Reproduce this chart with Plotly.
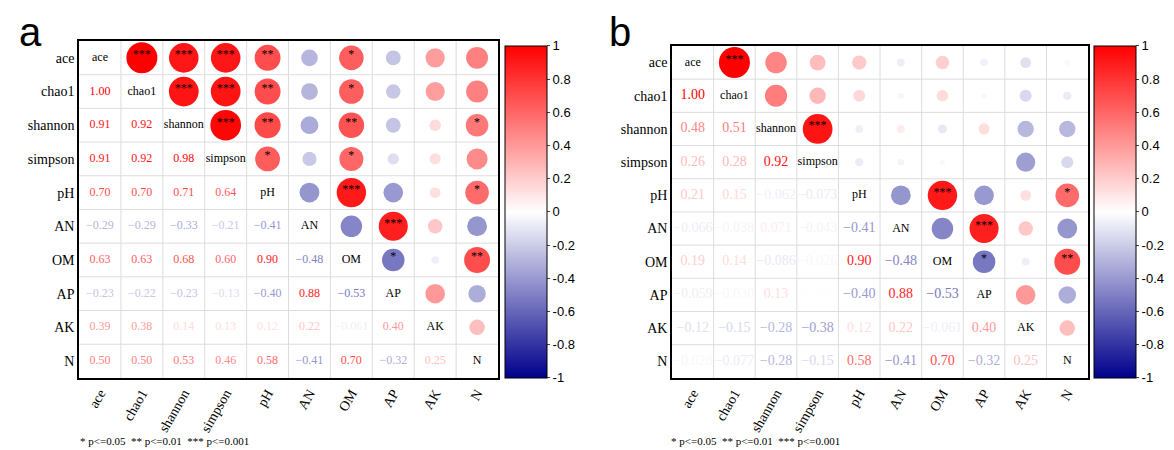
import plotly.graph_objects as go
import numpy as np

labels = ["ace", "chao1", "shannon", "simpson", "pH", "AN", "OM", "AP", "AK", "N"]

# lower-triangle correlation values (row i, col j<i)
corr_a = [
    [],
    [1.00],
    [0.91, 0.92],
    [0.91, 0.92, 0.98],
    [0.70, 0.70, 0.71, 0.64],
    [-0.29, -0.29, -0.33, -0.21, -0.41],
    [0.63, 0.63, 0.68, 0.60, 0.90, -0.48],
    [-0.23, -0.22, -0.23, -0.13, -0.40, 0.88, -0.53],
    [0.39, 0.38, 0.14, 0.13, 0.12, 0.22, -0.061, 0.40],
    [0.50, 0.50, 0.53, 0.46, 0.58, -0.41, 0.70, -0.32, 0.25],
]
corr_b = [
    [],
    [1.00],
    [0.48, 0.51],
    [0.26, 0.28, 0.92],
    [0.21, 0.15, -0.062, -0.073],
    [-0.066, -0.038, 0.071, -0.043, -0.41],
    [0.19, 0.14, -0.086, -0.026, 0.90, -0.48],
    [-0.059, -0.030, 0.13, 0.005, -0.40, 0.88, -0.53],
    [-0.12, -0.15, -0.28, -0.38, 0.12, 0.22, -0.061, 0.40],
    [-0.028, -0.077, -0.28, -0.15, 0.58, -0.41, 0.70, -0.32, 0.25],
]
sig_a = {(0,1):"***",(0,2):"***",(0,3):"***",(0,4):"**",(0,6):"*",
         (1,2):"***",(1,3):"***",(1,4):"**",(1,6):"*",
         (2,3):"***",(2,4):"**",(2,6):"**",(2,9):"*",
         (3,4):"*",(3,6):"*",(4,6):"***",(4,9):"*",(5,7):"***",(6,7):"*",(6,9):"**"}
sig_b = {(0,1):"***",(2,3):"***",(4,6):"***",(4,9):"*",(5,7):"***",(6,7):"*",(6,9):"**"}

footnote = "* p<=0.05  ** p<=0.01  *** p<=0.001"

def col(v):
    if v >= 0:
        t = v
        r, g, b = 255, 255*(1-t), 255*(1-t)
    else:
        t = -v
        r, g, b = 255*(1-t), 255*(1-t), 255 - (255-139)*t
    return f"rgb({int(r)},{int(g)},{int(b)})"

def fmt(v):
    s = ("%.2f" % v) if abs(v) >= 0.1 else ("%.2g" % v)
    if abs(v) < 0.1 and abs(v) >= 0.01 and len(s.replace("-", "")) < 5:
        s = "%.3f" % v
    return s.replace("-", "\u2212")

cs = [[0, "#00008B"], [0.5, "#FFFFFF"], [1, "#FF0000"]]
FONT = "Liberation Serif"
fig = go.Figure()

panels = [
    (corr_a, sig_a, "x", "y", [0.0605, 0.4174], [0.178, 0.9267], 0.4234, 31),
    (corr_b, sig_b, "x2", "y2", [0.5656, 0.92], [0.178, 0.9156], 0.925, 31),
]
layout_axes = {}
for k, (corr, sig, xa, ya, xd, yd, cbx, dmax) in enumerate(panels):
    n = len(labels)
    full = np.eye(n)
    for i in range(n):
        for j, v in enumerate(corr[i]):
            full[i, j] = v
            full[j, i] = v
    ux, uy, uv, us = [], [], [], []
    for i in range(n):
        for j in range(i+1, n):
            ux.append(j); uy.append(i); uv.append(full[i, j]); us.append(dmax*np.sqrt(abs(full[i, j])))
    fig.add_trace(go.Scatter(x=ux, y=uy, mode="markers", xaxis=xa, yaxis=ya, hoverinfo="skip",
        marker=dict(size=us, color=uv, colorscale=cs, cmin=-1, cmax=1, opacity=1, line=dict(width=0),
                    colorbar=dict(x=cbx, xanchor="left", xpad=0, ypad=0, y=0.178, yanchor="bottom", len=0.738,
                                  lenmode="fraction", thickness=42, outlinecolor="black", outlinewidth=1,
                                  tickvals=[round(-1+0.2*t, 1) for t in range(11)],
                                  ticktext=[("%g" % round(-1+0.2*t, 1)) for t in range(11)],
                                  ticks="outside", ticklen=3,
                                  tickfont=dict(family="Arial", size=13, color="black"))),
        showlegend=False))
    sx = [j for (i, j) in sig]; sy = [i - 0.08 for (i, j) in sig]; st = list(sig.values())
    fig.add_trace(go.Scatter(x=sx, y=sy, mode="text", text=st, xaxis=xa, yaxis=ya, hoverinfo="skip",
                             textfont=dict(family=FONT, size=12, color="black"), showlegend=False))
    lx, ly, lt, lc = [], [], [], []
    for i in range(n):
        for j, v in enumerate(corr[i]):
            lx.append(j); ly.append(i); lt.append(fmt(v)); lc.append(col(v))
    fig.add_trace(go.Scatter(x=lx, y=ly, mode="text", text=lt, xaxis=xa, yaxis=ya, hoverinfo="skip",
                             textfont=dict(family=FONT, size=12 if k == 0 else 14, color=lc), showlegend=False))
    fig.add_trace(go.Scatter(x=list(range(n)), y=list(range(n)), mode="text", text=labels, xaxis=xa, yaxis=ya,
                             hoverinfo="skip", textfont=dict(family=FONT, size=12, color="black"), showlegend=False))
    for g in range(1, n):
        fig.add_shape(type="line", xref=xa, yref=ya, x0=g-0.5, x1=g-0.5, y0=-0.5, y1=n-0.5,
                      line=dict(color="#DDDDDD", width=1), layer="below")
        fig.add_shape(type="line", xref=xa, yref=ya, x0=-0.5, x1=n-0.5, y0=g-0.5, y1=g-0.5,
                      line=dict(color="#DDDDDD", width=1), layer="below")
    suffix = "" if k == 0 else "2"
    layout_axes["xaxis" + suffix] = dict(domain=xd, range=[-0.5, n-0.5], tickvals=list(range(n)), ticktext=labels,
        tickangle=-60, showgrid=False, zeroline=False, showline=True, mirror=True, linecolor="black", linewidth=1.5,
        tickfont=dict(family=FONT, size=14, color="black"), anchor="y" + suffix, ticks="", automargin=False)
    layout_axes["yaxis" + suffix] = dict(domain=yd, range=[n-0.5, -0.5], tickvals=list(range(n)), ticktext=labels,
        showgrid=False, zeroline=False, showline=True, mirror=True, linecolor="black", linewidth=1.5,
        tickfont=dict(family=FONT, size=14, color="black"), anchor="x" + suffix, ticks="", automargin=False)

fig.update_layout(**layout_axes)
fig.update_layout(width=1174, height=450, margin=dict(l=0, r=0, t=0, b=0, autoexpand=False),
                  paper_bgcolor="white", plot_bgcolor="white")
for txt, x, y in [("a", 0.008, 1.0), ("b", 0.51, 1.0)]:
    fig.add_annotation(text=txt, xref="paper", yref="paper", x=x, y=y, xanchor="left", yanchor="top",
                       showarrow=False, font=dict(family="Arial", size=40, color="black"))
for x in [0.06, 0.563]:
    fig.add_annotation(text=footnote, xref="paper", yref="paper", x=x, y=0.02, xanchor="left", yanchor="bottom",
                       showarrow=False, font=dict(family=FONT, size=11, color="black"))
fig.write_html("out.html")
